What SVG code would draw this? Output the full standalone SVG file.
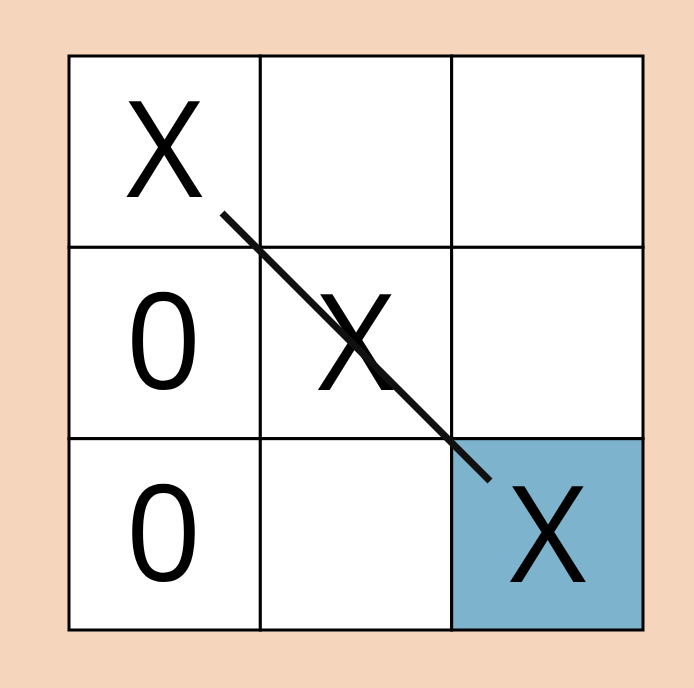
<svg xmlns="http://www.w3.org/2000/svg" width="694" height="688" viewBox="0 0 694 688">
<style>
.cell{fill:#ffffff;stroke:#000;stroke-width:3}
.win{fill:#7eb3ce}
.mark{font-family:"Open Sans","Noto Sans",sans-serif;font-size:133px;fill:#000;text-anchor:middle}
.strike{stroke:#111;stroke-width:7;stroke-linecap:butt;fill:none}
</style>
<rect x="0" y="0" width="694" height="688" fill="#f5d6bc"/>
<g id="board">
<g id="c00"><rect class="cell" x="69" y="56" width="191.33" height="191.33"/><text class="mark" x="164.5" y="197">X</text></g>
<g id="c01"><rect class="cell" x="260.33" y="56" width="191.33" height="191.33"/></g>
<g id="c02"><rect class="cell" x="451.67" y="56" width="191.33" height="191.33"/></g>
<g id="c10"><rect class="cell" x="69" y="247.33" width="191.33" height="191.33"/><text class="mark" x="163.5" y="389">0</text></g>
<g id="c11"><rect class="cell" x="260.33" y="247.33" width="191.33" height="191.33"/><text class="mark" x="356" y="390">X</text></g>
<g id="c12"><rect class="cell" x="451.67" y="247.33" width="191.33" height="191.33"/></g>
<g id="c20"><rect class="cell" x="69" y="438.67" width="191.33" height="191.33"/><text class="mark" x="163.5" y="581">0</text></g>
<g id="c21"><rect class="cell" x="260.33" y="438.67" width="191.33" height="191.33"/></g>
<g id="c22"><rect class="cell win" x="451.67" y="438.67" width="191.33" height="191.33"/><text class="mark" x="548" y="582">X</text></g>
</g>
<g id="connectors">
<line class="strike" x1="222" y1="213" x2="490" y2="481"/>
</g>
</svg>
